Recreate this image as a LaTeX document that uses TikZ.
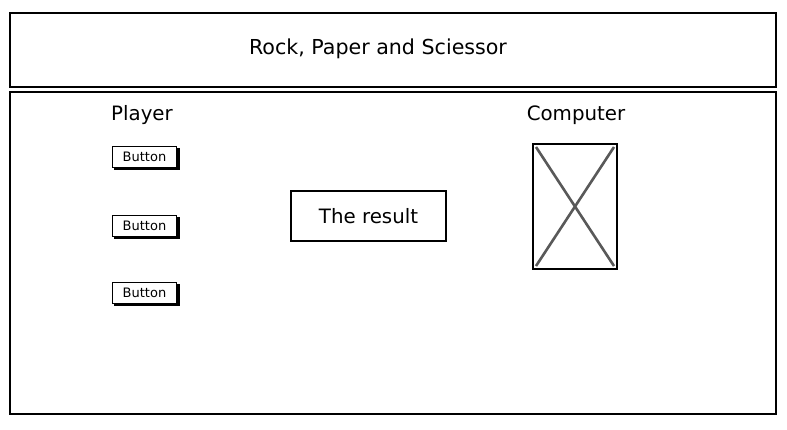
\documentclass[tikz,border=0pt]{standalone}
\usepackage{fontspec}
\setmainfont{DejaVu Sans}
\begin{document}
\begin{tikzpicture}[x=1pt,y=-1pt,
  panel/.style={draw=black,line width=1.6pt,fill=white},
  btn/.style={draw=black,line width=1.3pt,fill=white,minimum width=64pt,minimum height=21pt,inner sep=0pt,font=\fontsize{13}{14}\selectfont},
  lbl/.style={font=\fontsize{19.8}{22}\selectfont,inner sep=0pt},
  imgline/.style={draw=black!65,line width=2.6pt}]
\useasboundingbox (0,0) rectangle (787,429);
\fill[white] (0,0) rectangle (787,429);
% title panel
\draw[panel] (10,13) rectangle (776,87);
\node[lbl,font=\fontsize{20.6}{24}\selectfont] (title) at (378,49) {Rock, Paper and Sciessor};
% main panel
\draw[panel] (10,92) rectangle (776,414);
\node[lbl] (player) at (142,115) {Player};
\node[lbl] (computer) at (576,115) {Computer};
% buttons
\foreach \n/\y in {b1/157,b2/226,b3/293}{
  \fill[black] (114,\y-9.5) rectangle (180,\y+13);
  \node[btn] (\n) at (144.5,\y) {Button};
}
% result
\node[draw=black,line width=1.6pt,minimum width=155pt,minimum height=50pt,inner sep=0pt,font=\fontsize{19.8}{22}\selectfont] (result) at (368.5,216) {The result};
% image placeholder
\node[draw=black,line width=2pt,minimum width=84pt,minimum height=125pt,inner sep=0pt] (img) at (575,206.5) {};
\coordinate (i1) at ([shift={(4,4)}]img.north west);
\coordinate (i2) at ([shift={(-4,-4)}]img.south east);
\coordinate (i3) at ([shift={(-4,4)}]img.north east);
\coordinate (i4) at ([shift={(4,-4)}]img.south west);
\draw[imgline] (i1) -- (i2);
\draw[imgline] (i3) -- (i4);
\end{tikzpicture}
\end{document}
